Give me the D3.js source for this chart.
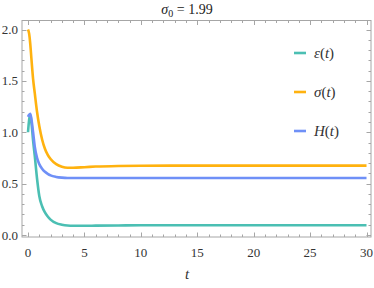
<!DOCTYPE html>
<html>
<head>
<meta charset="utf-8">
<script src="https://cdn.jsdelivr.net/npm/d3@7"></script>
<style>
  body { margin:0; background:#fff; }
  svg text { font-family: "Liberation Serif", "DejaVu Serif", serif; }
</style>
</head>
<body>
<div id="chart"></div>
<script>
// time samples and the three series
var tVals    = [0, 0.1, 0.2, 0.3, 0.45, 0.6, 0.8, 1.0, 1.25, 1.5, 1.75, 2, 2.5, 3, 3.5, 4, 5, 6, 8, 10, 15, 20, 25, 30];
var epsVals  = [1.0, 1.12, 1.17, 1.1, 0.92, 0.77, 0.55, 0.38, 0.28, 0.22, 0.18, 0.15, 0.115, 0.1, 0.092, 0.09, 0.09, 0.091, 0.093, 0.095, 0.095, 0.095, 0.095, 0.095];
var sigVals  = [2.0, 1.96, 1.86, 1.72, 1.52, 1.38, 1.2, 1.06, 0.93, 0.84, 0.78, 0.74, 0.69, 0.665, 0.655, 0.655, 0.66, 0.666, 0.672, 0.674, 0.675, 0.675, 0.675, 0.675];
var hVals    = [1.15, 1.17, 1.18, 1.13, 1.0, 0.86, 0.75, 0.69, 0.645, 0.615, 0.595, 0.58, 0.565, 0.558, 0.555, 0.555, 0.555, 0.555, 0.555, 0.555, 0.555, 0.555, 0.555, 0.555];

var seriesNames  = ["ε", "σ", "H"];
var seriesColors = ["#4bbfb3", "#ffb20f", "#6f90f7"];
var xTicks = [0, 5, 10, 15, 20, 25, 30];
var yTicks = [0.0, 0.5, 1.0, 1.5, 2.0];

var W = 374, H = 288;
var frame = {left:22, right:371, top:20.5, bottom:237};

var svg = d3.select("#chart").append("svg")
    .attr("width", W).attr("height", H);

var x = d3.scaleLinear().domain([0, 30]).range([28, 366.5]);
var y = d3.scaleLinear().domain([0, 2]).range([235, 29.5]);

// frame
svg.append("rect")
   .attr("x", frame.left).attr("y", frame.top)
   .attr("width", frame.right - frame.left)
   .attr("height", frame.bottom - frame.top)
   .style("fill", "none").style("stroke", "#a6a6a6").style("stroke-width", 1);

var tickCol = "#a6a6a6";
var ticks = svg.append("g").style("stroke", tickCol).style("stroke-width", 1);

// x ticks (bottom and top), minor every 1
d3.range(0, 31, 1).forEach(function(v){
    var major = v % 5 === 0, len = major ? 4.5 : 2.5, px = Math.round(x(v)) + 0.5;
    ticks.append("line").attr("x1", px).attr("x2", px)
        .attr("y1", frame.bottom).attr("y2", frame.bottom - len);
    ticks.append("line").attr("x1", px).attr("x2", px)
        .attr("y1", frame.top).attr("y2", frame.top + len);
});
// y ticks (left and right), minor every 0.1
d3.range(0, 21, 1).forEach(function(i){
    var v = i / 10, major = i % 5 === 0, len = major ? 4.5 : 2.5, py = Math.round(y(v)) + 0.5;
    ticks.append("line").attr("y1", py).attr("y2", py)
        .attr("x1", frame.left).attr("x2", frame.left + len);
    ticks.append("line").attr("y1", py).attr("y2", py)
        .attr("x1", frame.right).attr("x2", frame.right - len);
});

// tick labels
svg.append("g").selectAll("text").data(xTicks).enter().append("text")
   .attr("x", function(d){ return x(d); })
   .attr("y", 257)
   .attr("text-anchor", "middle")
   .style("font-size", "13px").style("fill", "#333")
   .text(function(d){ return d; });

svg.append("g").selectAll("text").data(yTicks).enter().append("text")
   .attr("x", 18)
   .attr("y", function(d){ return y(d) + 4.5; })
   .attr("text-anchor", "end")
   .style("font-size", "13px").style("fill", "#333")
   .text(function(d){ return d.toFixed(1); });

// axis label
svg.append("text").attr("x", 187).attr("y", 279)
   .attr("text-anchor", "middle")
   .style("font-size", "15px").style("font-style", "italic").style("fill", "#333")
   .text("t");

// title
var title = svg.append("text").attr("x", 187).attr("y", 14)
   .attr("text-anchor", "middle")
   .style("font-size", "14px").style("fill", "#222");
title.append("tspan").style("font-style", "italic").text("σ");
title.append("tspan").attr("dy", 3).style("font-size", "10px").text("0");
title.append("tspan").attr("dy", -3).text(" = 1.99");

// curves
var data = [epsVals, sigVals, hVals];
var line = d3.line()
    .x(function(d, i){ return x(tVals[i]); })
    .y(function(d){ return y(d); })
    .curve(d3.curveMonotoneX);

svg.append("g").selectAll("path").data(data).enter().append("path")
   .attr("d", line)
   .style("fill", "none")
   .style("stroke", function(d, i){ return seriesColors[i]; })
   .style("stroke-width", 2.6)
   .style("stroke-linejoin", "round");

// legend
var legY = [53, 92, 131];
var leg = svg.append("g").selectAll("g").data(seriesNames).enter().append("g")
   .attr("transform", function(d, i){ return "translate(0," + legY[i] + ")"; });
leg.append("line").attr("x1", 294).attr("x2", 306).attr("y1", 0).attr("y2", 0)
   .style("stroke", function(d, i){ return seriesColors[i]; })
   .style("stroke-width", 2.6);
var lt = leg.append("text").attr("x", 314).attr("y", 5)
   .style("font-size", "15px").style("fill", "#333");
lt.append("tspan").style("font-style", "italic").text(function(d){ return d; });
lt.append("tspan").text("(");
lt.append("tspan").style("font-style", "italic").text("t");
lt.append("tspan").text(")");
</script>
</body>
</html>
